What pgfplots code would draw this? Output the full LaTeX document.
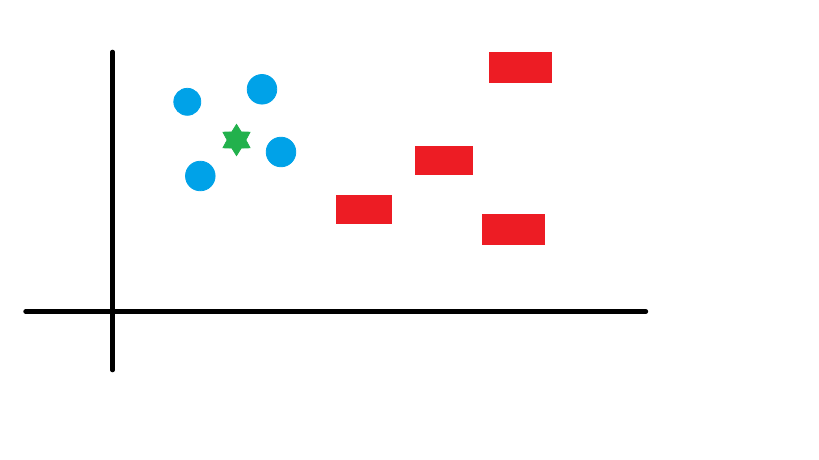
\documentclass[border=0pt]{standalone}
\usepackage{pgfplots}
\pgfplotsset{compat=1.18}
\definecolor{pblue}{HTML}{00A2E8}
\definecolor{pred}{HTML}{ED1C24}
\definecolor{pgreen}{HTML}{22B14C}
\pgfdeclareplotmark{hexstar}{%
  \pgfpathmoveto{\pgfpointpolar{90}{\pgfplotmarksize}}%
  \pgfpathlineto{\pgfpointpolar{120}{0.6\pgfplotmarksize}}%
  \pgfpathlineto{\pgfpointpolar{150}{\pgfplotmarksize}}%
  \pgfpathlineto{\pgfpointpolar{180}{0.6\pgfplotmarksize}}%
  \pgfpathlineto{\pgfpointpolar{210}{\pgfplotmarksize}}%
  \pgfpathlineto{\pgfpointpolar{240}{0.6\pgfplotmarksize}}%
  \pgfpathlineto{\pgfpointpolar{270}{\pgfplotmarksize}}%
  \pgfpathlineto{\pgfpointpolar{300}{0.6\pgfplotmarksize}}%
  \pgfpathlineto{\pgfpointpolar{330}{\pgfplotmarksize}}%
  \pgfpathlineto{\pgfpointpolar{0}{0.6\pgfplotmarksize}}%
  \pgfpathlineto{\pgfpointpolar{30}{\pgfplotmarksize}}%
  \pgfpathlineto{\pgfpointpolar{60}{0.6\pgfplotmarksize}}%
  \pgfpathclose
  \pgfusepathqfillstroke}
\begin{document}
\begin{tikzpicture}
\begin{axis}[
  width=409.5pt, height=230pt, scale only axis,
  xmin=0, xmax=819, ymin=0, ymax=460, y dir=reverse,
  hide axis, clip=false]
\path (rel axis cs:0,0) rectangle (rel axis cs:1,1);
% axes lines
\addplot[black, line width=2.2pt, line cap=round] coordinates {(25.5,311.5) (646,311.5)};
\addplot[black, line width=2.3pt, line cap=round] coordinates {(112.5,52) (112.5,370)};
% blue circles
\addplot[only marks, mark=*, color=pblue, mark size=6.75pt] coordinates {(187.3,101.8)};
\addplot[only marks, mark=*, color=pblue, mark size=7.4pt] coordinates {(262,89.3) (281,152) (200.3,176)};
% green star
\addplot[only marks, mark=hexstar, color=pgreen, mark size=7.8pt] coordinates {(236.5,140)};
% red rectangles
\addplot[fill=pred, draw=none] coordinates {(489,52) (552,52) (552,82.7) (489,82.7)} -- cycle;
\addplot[fill=pred, draw=none] coordinates {(415,146) (473,146) (473,175) (415,175)} -- cycle;
\addplot[fill=pred, draw=none] coordinates {(336,195) (392,195) (392,224) (336,224)} -- cycle;
\addplot[fill=pred, draw=none] coordinates {(482,214) (545,214) (545,245) (482,245)} -- cycle;
\end{axis}
\end{tikzpicture}
\end{document}
